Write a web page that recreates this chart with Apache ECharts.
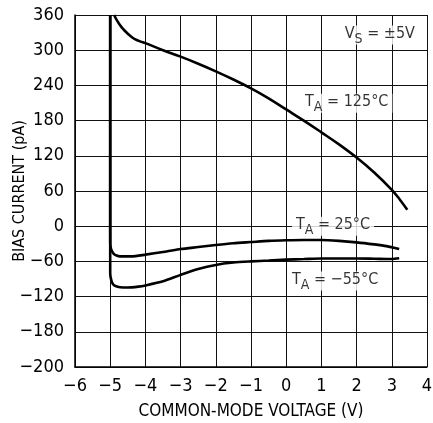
<!DOCTYPE html>
<html><head><meta charset="utf-8">
<script src="https://cdn.jsdelivr.net/npm/echarts@6/dist/echarts.min.js"></script>
<style>html,body{margin:0;padding:0;background:#fff}#c{width:433px;height:423px}</style>
</head><body><div id="c"></div>
<script>
const FONT = '"Liberation Sans Narrow","DejaVu Sans Condensed",sans-serif';

const xTickLabels = ['−6','−5','−4','−3','−2','−1','0','1','2','3','4'];
const yTickLabels = ['−200','−180','−120','−60','0','60','120','180','240','300','360'];

const x125 = [-4.89, -4.8, -4.7, -4.6, -4.5, -4.4, -4.3, -4.15, -4.0, -3.5, -3.0, -2.5, -2.0, -1.5, -1.0, -0.5, 0, 0.5, 1.0, 1.5, 2.0, 2.5, 3.0, 3.22, 3.44];
const y125 = [360, 350, 341, 334, 328, 323, 319, 315, 312, 300, 289, 277, 264, 250, 235, 218, 199, 180, 160, 139.5, 117, 91.5, 62, 46, 28];

const x25 = [-5, -5, -4.97, -4.9, -4.82, -4.72, -4.4, -4.0, -3.4, -3.0, -2.5, -2.0, -1.5, -1.0, -0.5, 0, 0.5, 1, 1.5, 2, 2.5, 2.85, 3.21];
const y25 = [360, -29, -40, -47, -50, -51.5, -51.5, -48.5, -43, -39, -35.5, -32, -29, -27, -25, -24, -23.5, -23.5, -25, -27.5, -31, -34, -39];

const x55 = [-5, -5, -4.97, -4.92, -4.85, -4.72, -4.5, -4.2, -4.0, -3.5, -3.0, -2.5, -2.0, -1.5, -1.0, -0.5, 0, 0.5, 1, 1.5, 2, 2.5, 3, 3.21];
const y55 = [360, -80, -92, -99, -102, -104, -104.5, -103, -101, -94, -83, -73, -66, -62, -60, -58.5, -57, -56, -55, -55, -55, -55.5, -56, -54.7];

const noteX = [2.66, 1.72, 1.33, 1.39];
const noteY = [326, 209.5, 0, -93.5];
const noteMain = ['V', 'T', 'T', 'T'];
const noteSub = ['S', 'A', 'A', 'A'];
const noteRest = [' = ±5V', ' = 125°C', ' = 25°C', ' = −55°C'];

const zip = (xs, ys) => xs.map((x, i) => [x, ys[i]]);

const lineStyle = { color: '#000', width: 2.6 };
const curve = (name, xs, ys, sm) => ({
  name, type: 'line', data: zip(xs, ys), showSymbol: false, symbol: 'none',
  smooth: sm, lineStyle, z: 3, silent: true
});

const chart = echarts.init(document.getElementById('c'), null, { renderer: 'canvas' });
chart.setOption({
  animation: false,
  backgroundColor: '#fff',
  grid: { left: 75, right: 6, top: 15, bottom: 56, containLabel: false, outerBoundsMode: 'none' },
  xAxis: {
    type: 'value', min: -6, max: 4, interval: 1,
    name: 'COMMON-MODE VOLTAGE (V)', nameLocation: 'middle', nameGap: 36, nameMoveOverlap: false,
    nameTextStyle: { fontFamily: FONT, fontSize: 17, color: '#000' },
    axisLine: { show: true, onZero: false, lineStyle: { color: '#000', width: 1.5 } },
    axisTick: { show: false },
    axisLabel: { fontFamily: FONT, fontSize: 18, color: '#000', margin: 10,
      formatter: v => xTickLabels[Math.round(v + 6)] },
    splitLine: { show: true, lineStyle: { color: '#111', width: 1 } }
  },
  yAxis: {
    type: 'value', min: -240, max: 360, interval: 60,
    name: 'BIAS CURRENT (pA)', nameLocation: 'middle', nameGap: 47, nameRotate: 90, nameMoveOverlap: false,
    nameTextStyle: { fontFamily: FONT, fontSize: 16, color: '#000' },
    axisLine: { show: true, onZero: false, lineStyle: { color: '#000', width: 1.5 } },
    axisTick: { show: false },
    axisLabel: { fontFamily: FONT, fontSize: 18, color: '#000', margin: 11,
      formatter: v => yTickLabels[Math.round((v + 240) / 60)] },
    splitLine: { show: true, lineStyle: { color: '#111', width: 1 } }
  },
  series: [
    curve('125', x125, y125, 0.4),
    curve('25', x25, y25, 0.25),
    curve('-55', x55, y55, 0.25),
    {
      type: 'scatter', symbolSize: 0, z: 4, silent: true,
      data: zip(noteX, noteY),
      label: {
        show: true, position: 'inside', backgroundColor: '#fff', padding: [0, 4, 0, 4],
        formatter: p => '{m|' + noteMain[p.dataIndex] + '}{s|' + noteSub[p.dataIndex] + '}{m|' + noteRest[p.dataIndex] + '}',
        rich: {
          m: { fontFamily: FONT, fontSize: 16, color: '#000', lineHeight: 19, verticalAlign: 'top' },
          s: { fontFamily: FONT, fontSize: 14, color: '#000', lineHeight: 15, verticalAlign: 'top', padding: [7, 0, 0, 0] }
        }
      }
    }
  ]
});
</script></body></html>
